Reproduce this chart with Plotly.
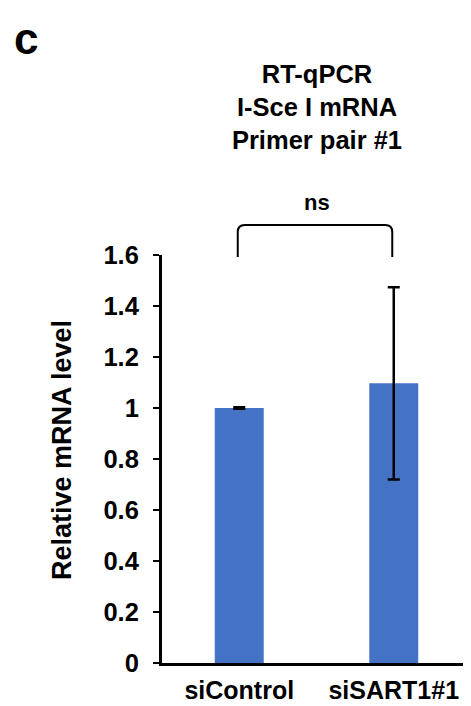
import plotly.graph_objects as go

categories = ["siControl", "siSART1#1"]
values = [1.0, 1.097]
errors = [0.003, 0.377]
y_ticks = [0, 0.2, 0.4, 0.6, 0.8, 1.0, 1.2, 1.4, 1.6]
y_range = [0, 1.6]
bracket_bottom = 1.592
bracket_top = 1.718
ns_y = 1.75
title_lines = ["RT-qPCR", "I-Sce I mRNA", "Primer pair #1"]
y_title = "Relative mRNA level"

FONT = "Liberation Sans, Arial, Helvetica, sans-serif"

# page body adds an 8px margin, so the figure is drawn 8px smaller
W, H = 463, 698
ML, MR, MT, MB = 154, 0, 247, 43
PW, PH = W - ML - MR, H - MT - MB


def xp(i):
    # category index -> paper x (axis range -0.5..n-0.5)
    return (i + 0.5) / len(categories)


def yp(v):
    return (v - y_range[0]) / (y_range[1] - y_range[0])


fig = go.Figure()
fig.add_trace(go.Bar(
    x=categories, y=values,
    marker=dict(color="#4472C4", line=dict(width=0)),
    width=0.317,
    error_y=dict(type="data", array=errors, visible=True,
                 color="black", thickness=2.5, width=6),
))

# significance bracket
x0, x1 = xp(0) - 1.5 / PW, xp(1) - 1.5 / PW
yb, yt = yp(bracket_bottom), yp(bracket_top)
rx, ry = 7 / PW, 7 / PH
path = (f"M {x0},{yb} L {x0},{yt - ry} Q {x0},{yt} {x0 + rx},{yt} "
        f"L {x1 - rx},{yt} Q {x1},{yt} {x1},{yt - ry} L {x1},{yb}")
fig.add_shape(type="path", path=path, xref="paper", yref="paper",
              line=dict(color="black", width=2))

fig.add_annotation(x=0.5, y=yp(ns_y), xref="paper", yref="paper", text="<b>ns</b>",
                   showarrow=False, yanchor="bottom",
                   font=dict(family=FONT, size=22, color="black"))

# panel letter
fig.add_annotation(x=(4 - ML) / PW, y=1 + (MT - 4) / PH, xref="paper", yref="paper",
                   text="<b>c</b>", showarrow=False, xanchor="left", yanchor="top",
                   font=dict(family=FONT, size=44, color="black"))

# y-axis title
fig.add_annotation(x=(54 - ML) / PW, y=(MT + PH - 442) / PH, xref="paper", yref="paper",
                   text="<b>" + y_title + "</b>", showarrow=False, textangle=-90,
                   xanchor="center", yanchor="middle",
                   font=dict(family=FONT, size=27, color="black"))

fig.update_layout(
    width=W, height=H,
    margin=dict(l=ML, r=MR, t=MT, b=MB, autoexpand=False),
    paper_bgcolor="white", plot_bgcolor="white",
    showlegend=False,
    title=dict(text="<b>" + "<br>".join(title_lines) + "</b>",
               x=309 / W, xanchor="center", y=1 - 75 / H, yanchor="top",
               xref="container", yref="container",
               font=dict(family=FONT, size=25.5, color="black")),
    font=dict(family=FONT, color="black"),
    xaxis=dict(showline=True, linecolor="black", linewidth=3, ticks="",
               tickfont=dict(family=FONT, size=25, color="black", weight="bold"),
               ticklabelstandoff=3, range=[-0.5, 1.5]),
    yaxis=dict(range=y_range, tickvals=y_ticks, showgrid=False, zeroline=False,
               showline=True, linecolor="black", linewidth=3,
               ticks="outside", ticklen=6, tickwidth=2, tickcolor="black",
               tickfont=dict(family=FONT, size=25.5, color="black", weight="bold"),
               ticklabelstandoff=9),
)

fig.write_html("out.html")
